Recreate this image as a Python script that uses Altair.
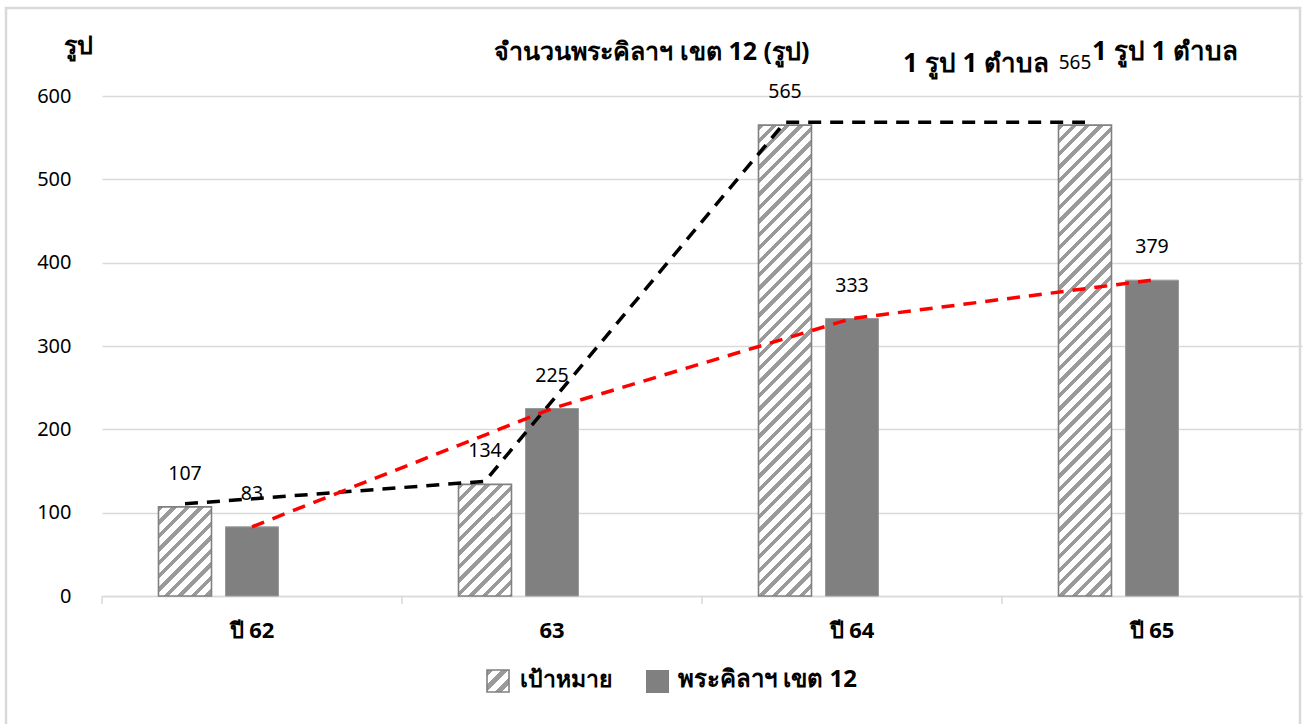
import math
import altair as alt
import pandas as pd

# ---------------- data ----------------
categories = ["ปี 62", "63", "ปี 64", "ปี 65"]
target = [107, 134, 565, 565]
actual = [83, 225, 333, 379]
series_keys = ["target", "actual", "blank"]
legend_labels = ["เป้าหมาย", "พระคิลาฯ เขต 12"]
title_text = "จำนวนพระคิลาฯ เขต 12 (รูป)"
y_title = "รูป"
note_text = "1 รูป 1 ตำบล"
y_ticks = [0, 100, 200, 300, 400, 500, 600]

# ---------------- style ----------------
FONT = "Tahoma, 'Noto Sans', 'DejaVu Sans', sans-serif"
PLOT_W, PLOT_H = 1200, 500
Y_MAX = 600
BAR_W = 53.0
HATCH_GRAY = "#9a9a9a"
BAR_STROKE = "#808080"
GRID = "#d9d9d9"

rows = []
for c, t, a in zip(categories, target, actual):
    rows.append({"cat": c, "series": "target", "value": t})
    rows.append({"cat": c, "series": "actual", "value": a})
df = pd.DataFrame(rows)


def hatch(w, h, period=9.5, line=3.8, color=HATCH_GRAY):
    """45-degree '/' stripes as a bbox-relative linear gradient."""
    D = (w + h) / math.sqrt(2)
    a = (w + h) * w * h / (w * w + h * h)
    stops = []
    d = 0.0
    while d < D:
        o1 = d / D
        o2 = min((d + line) / D, 1.0)
        o3 = min((d + period) / D, 1.0)
        stops += [
            alt.GradientStop(offset=o1, color=color),
            alt.GradientStop(offset=o2, color=color),
            alt.GradientStop(offset=o2, color="white"),
            alt.GradientStop(offset=o3, color="white"),
        ]
        d += period
    return alt.LinearGradient(gradient="linear", x1=0, y1=0, x2=a / h, y2=a / w, stops=stops)


x_scale = alt.Scale(domain=categories, paddingInner=0, paddingOuter=0)
xoff_scale = alt.Scale(domain=series_keys, paddingInner=0.209, paddingOuter=0.843)
y_scale = alt.Scale(domain=[0, Y_MAX], nice=False)

x_enc = alt.X(
    "cat:N", sort=categories, scale=x_scale, title=None,
    axis=alt.Axis(ticks=False, domainColor=GRID, domainWidth=1.5, labelFont=FONT,
                  labelFontSize=22, labelFontWeight="bold", labelColor="black",
                  labelPadding=24, labelAngle=0),
)
xoff_enc = alt.XOffset("series:N", scale=xoff_scale)
y_enc = alt.Y(
    "value:Q", scale=y_scale, title=None,
    axis=alt.Axis(values=y_ticks, domain=False, ticks=False, grid=True, gridColor=GRID,
                  gridWidth=1.5, labelFont=FONT, labelFontSize=20, labelFontWeight="normal",
                  labelColor="black", labelPadding=31),
)

base = alt.Chart(df)
layers = []

# hatched target bars (one layer each, gradient fitted to each bar's size)
for c, t in zip(categories, target):
    h = t / Y_MAX * PLOT_H
    layers.append(
        base.transform_filter((alt.datum.cat == c) & (alt.datum.series == "target"))
        .mark_bar(fill=hatch(BAR_W, h), stroke=BAR_STROKE, strokeWidth=1.6)
        .encode(x=x_enc, xOffset=xoff_enc, y=y_enc)
    )

# solid actual bars
layers.append(
    base.transform_filter(alt.datum.series == "actual")
    .mark_bar(fill="#808080", stroke="#9a9a9a", strokeWidth=1)
    .encode(x=x_enc, xOffset=xoff_enc, y=y_enc)
)

# x ticks at band boundaries
layers.append(
    alt.Chart(pd.DataFrame({"cat": categories}))
    .mark_rule(color=GRID, strokeWidth=1.5)
    .encode(x=alt.X("cat:N", sort=categories, scale=x_scale, bandPosition=0, title=None),
            y=alt.value(PLOT_H), y2=alt.value(PLOT_H + 8))
)

# dashed lines
layers.append(
    base.transform_filter(alt.datum.series == "target")
    .mark_line(color="black", strokeDash=[13, 9], strokeWidth=3.5, yOffset=-3)
    .encode(x=x_enc, xOffset=xoff_enc, y=y_enc)
)
layers.append(
    base.transform_filter(alt.datum.series == "actual")
    .mark_line(color="#ff0000", strokeDash=[13, 9], strokeWidth=3.5)
    .encode(x=x_enc, xOffset=xoff_enc, y=y_enc)
)

# data labels
last_cat = categories[-1]
layers.append(
    base.transform_filter(~((alt.datum.cat == last_cat) & (alt.datum.series == "target")))
    .mark_text(font=FONT, fontSize=19.5, color="black", baseline="middle", dy=-33)
    .encode(x=x_enc, xOffset=xoff_enc, y=y_enc, text="value:Q")
)
layers.append(
    base.transform_filter((alt.datum.cat == last_cat) & (alt.datum.series == "target"))
    .mark_text(font=FONT, fontSize=19, color="black", baseline="middle", dy=-62, dx=-10)
    .encode(x=x_enc, xOffset=xoff_enc, y=y_enc, text="value:Q")
)


def note(text, x, y, size=20, weight="bold", align="center"):
    return (
        alt.Chart(pd.DataFrame({"label": [text]}))
        .mark_text(font=FONT, fontSize=size, fontWeight=weight, color="black",
                   align=align, baseline="middle")
        .encode(text="label:N", x=alt.value(x), y=alt.value(y))
    )


layers.append(note(title_text, 550, -44, size=25))
layers.append(note(y_title, -24, -50, size=25))
layers.append(note(note_text, 874, -32, size=26))
layers.append(note(note_text, 1063, -44, size=26))

# legend
layers.append(
    alt.Chart(pd.DataFrame({"label": [legend_labels[0]]}))
    .mark_rect(fill=hatch(23, 23, period=11, line=5), stroke=BAR_STROKE, strokeWidth=1.6)
    .encode(x=alt.value(385), x2=alt.value(407), y=alt.value(574), y2=alt.value(596))
)
layers.append(
    alt.Chart(pd.DataFrame({"label": [legend_labels[1]]}))
    .mark_rect(fill="#808080")
    .encode(x=alt.value(544), x2=alt.value(567), y=alt.value(574), y2=alt.value(597))
)
layers.append(note(legend_labels[0], 418, 584, size=23, align="left"))
layers.append(note(legend_labels[1], 576, 584, size=24, align="left"))

# chart-area border
layers.append(
    alt.Chart(pd.DataFrame({"label": ["border"]}))
    .mark_rect(fill="transparent", stroke=GRID, strokeWidth=2.5)
    .encode(x=alt.value(-96), x2=alt.value(1198), y=alt.value(-88), y2=alt.value(660))
)

chart = (
    alt.layer(*layers)
    .properties(
        width=PLOT_W, height=PLOT_H,
        padding={"left": 102, "top": 96, "right": 4, "bottom": 128},
        autosize=alt.AutoSizeParams(type="none"),
        background="white",
    )
    .configure_view(stroke="transparent")
)

chart.save("out.html", embed_options={"renderer": "svg", "actions": False})
